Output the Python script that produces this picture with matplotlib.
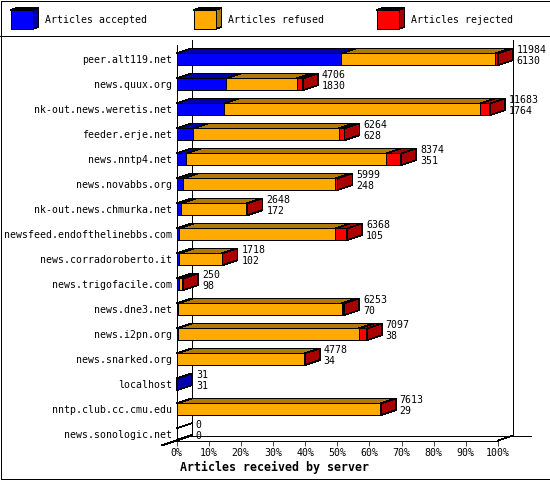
import matplotlib
matplotlib.use("Agg")
import matplotlib.pyplot as plt
from matplotlib.patches import Polygon, Rectangle

servers = ["peer.alt119.net", "news.quux.org", "nk-out.news.weretis.net", "feeder.erje.net",
           "news.nntp4.net", "news.novabbs.org", "nk-out.news.chmurka.net",
           "newsfeed.endofthelinebbs.com", "news.corradoroberto.it", "news.trigofacile.com",
           "news.dne3.net", "news.i2pn.org", "news.snarked.org", "localhost",
           "nntp.club.cc.cmu.edu", "news.sonologic.net"]
totals = [11984, 4706, 11683, 6264, 8374, 5999, 2648, 6368, 1718, 250, 6253, 7097, 4778, 31, 7613, 0]
accepted = [6130, 1830, 1764, 628, 351, 248, 172, 105, 102, 98, 70, 38, 34, 31, 29, 0]
rejected = [110, 230, 373, 224, 560, 75, 50, 450, 30, 20, 100, 300, 30, 0, 20, 0]
pct_ticks = [0, 10, 20, 30, 40, 50, 60, 70, 80, 90, 100]
legend_names = ["Articles accepted", "Articles refused", "Articles rejected"]

front_colors = ["#0000FF", "#FFAA00", "#FF0000"]
dark_colors = ["#0000AA", "#B07A08", "#AA0000"]
FONT = "DejaVu Sans Mono"
FS = 7.15
LW = 0.5

fig = plt.figure(figsize=(5.5, 4.8), dpi=100)

# overlay in pixel coords for the frame and the legend
chrome = fig.add_axes([0, 0, 1, 1])
chrome.set_xlim(0, 550)
chrome.set_ylim(480, 0)
chrome.axis("off")
chrome.add_patch(Rectangle((0.5, 0.5), 549, 478.5, fill=False, ec="black", lw=0.7, aa=False))
chrome.plot([0, 550], [35.5, 35.5], color="black", lw=LW, aa=False)


def swatch(x, face, dark):
    chrome.add_patch(Polygon([(x + 22, 10), (x + 28, 8), (x + 28, 27), (x + 22, 29)], fc=dark, ec="black", lw=LW, aa=False))
    chrome.add_patch(Polygon([(x, 10), (x + 6, 8), (x + 28, 8), (x + 22, 10)], fc=dark, ec="black", lw=LW, aa=False))
    chrome.add_patch(Rectangle((x, 10), 22, 19, fc=face, ec="black", lw=LW, aa=False))


for x, name, face, dark in zip([10.5, 193.5, 376.5], legend_names, front_colors, dark_colors):
    swatch(x, face, dark)
    chrome.text(x + 34.5, 20, name, family=FONT, fontsize=FS, va="center", ha="left")

# main plot, 100% = biggest total
ax = fig.add_axes([176.5 / 550, 1 - 440.5 / 480, 321.5 / 550, 395.5 / 480])
ax.patch.set_alpha(0)
ax.set_xlim(0, 100)
ax.set_ylim(15.25, -0.572)
depth_x = 15 / 321.5 * 100
depth_y = 5 / 25
half = 5.85 / 25

for s in ["top", "right"]:
    ax.spines[s].set_visible(False)
for s in ["left", "bottom"]:
    ax.spines[s].set_linewidth(LW)
    ax.spines[s].set_antialiased(False)
ax.set_xticks(pct_ticks)
ax.set_xticklabels([f"{p}%" for p in pct_ticks], family=FONT, fontsize=FS)
ax.set_yticks(range(len(servers)))
ax.set_yticklabels(servers, family=FONT, fontsize=FS)
ax.tick_params(axis="x", length=3.6, width=LW, pad=1.5)
ax.tick_params(axis="y", length=0, pad=3)
ax.set_xlabel("Articles received by server", family=FONT, fontsize=8.4, fontweight="bold")
ax.xaxis.set_label_coords((274 - 176.5) / 321.5, -(467 - 440.5) / 395.5)
ax.xaxis.label.set_va("center")

# back walls and floor
y_floor = 15.25
y_back = y_floor - depth_y
y_top = -0.77
line = dict(color="black", lw=LW, clip_on=False, aa=False, zorder=1)
ax.plot([depth_x, depth_x], [y_top, y_back], **line)
ax.plot([100 + depth_x, 100 + depth_x], [y_top, y_back], **line)
ax.plot([depth_x, 100 + depth_x + 5.6], [y_back, y_back], **line)
ax.plot([100, 100 + depth_x], [y_floor, y_back], **line)
ax.plot([-depth_x, depth_x], [y_floor + depth_y, y_back], **line)

for i, total in enumerate(totals):
    scale = 100 / max(totals)
    top = i - half
    bottom = i + half
    z = 3 + i
    edge = dict(ec="black", lw=LW, aa=False, clip_on=False)
    if total == 0:
        ax.plot([0, depth_x], [top, top - depth_y], color="black", lw=LW, aa=False, clip_on=False, zorder=z)
        ax.plot([0, depth_x], [bottom, bottom - depth_y], color="black", lw=LW, aa=False, clip_on=False, zorder=z)
    else:
        refused = total - accepted[i] - rejected[i]
        start = 0
        for value, face, dark in zip([accepted[i], refused, rejected[i]], front_colors, dark_colors):
            if value <= 0:
                continue
            end = start + value * scale
            ax.add_patch(Polygon([(start, top), (start + depth_x, top - depth_y), (end + depth_x, top - depth_y), (end, top)],
                                 fc=dark, zorder=z, **edge))
            ax.add_patch(Rectangle((start, top), end - start, bottom - top, fc=face, zorder=z + 0.1, **edge))
            start = end
            last_dark = dark
        ax.add_patch(Polygon([(start, top), (start + depth_x, top - depth_y), (start + depth_x, bottom - depth_y), (start, bottom)],
                             fc=last_dark, zorder=z + 0.2, **edge))
    label_x = total * scale + depth_x + 1.2
    ax.text(label_x, i - 0.37, str(total), family=FONT, fontsize=FS, va="center", ha="left", zorder=30, clip_on=False)
    ax.text(label_x, i + 0.07, str(accepted[i]), family=FONT, fontsize=FS, va="center", ha="left", zorder=30, clip_on=False)

fig.savefig("out.png", dpi=100)
